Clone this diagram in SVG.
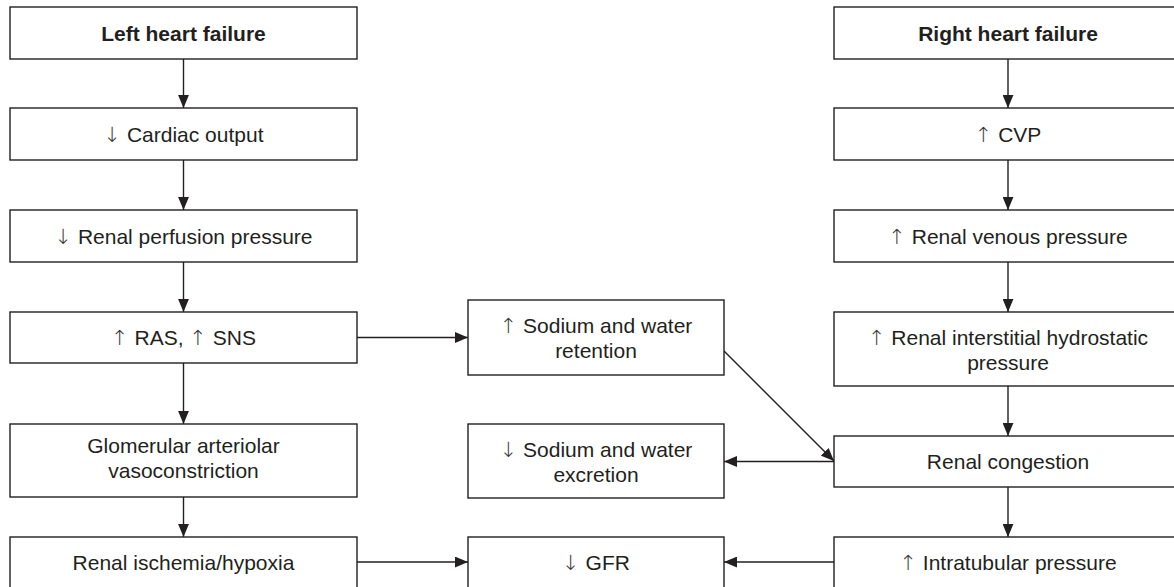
<svg xmlns="http://www.w3.org/2000/svg" width="1174" height="587" viewBox="0 0 1174 587">
<style>
.box{fill:#fff;stroke:#231f20;stroke-width:1.4}
.t{font-family:"Liberation Sans",Arial,sans-serif;font-size:21px;fill:#231f20;text-anchor:middle}
.b{font-weight:bold}
.a{font-family:"DejaVu Sans",sans-serif;font-weight:200;fill:#3a3a3a}
.c{stroke:#231f20;stroke-width:1.4;fill:none;marker-end:url(#ah)}
</style>
<defs>
<marker id="ah" markerUnits="userSpaceOnUse" markerWidth="13" markerHeight="11" refX="12" refY="5" orient="auto" viewBox="0 0 12 10">
<path d="M0,0 L12,5 L0,10 z" fill="#231f20"/>
</marker>
</defs>
<rect width="1174" height="587" fill="#fff"/>
<g id="connectors">
<line class="c" x1="183.5" y1="59" x2="183.5" y2="108"/>
<line class="c" x1="183.5" y1="160" x2="183.5" y2="210"/>
<line class="c" x1="183.5" y1="262" x2="183.5" y2="312"/>
<line class="c" x1="183.5" y1="363" x2="183.5" y2="424"/>
<line class="c" x1="183.5" y1="497" x2="183.5" y2="537"/>
<line class="c" x1="1008" y1="59" x2="1008" y2="108"/>
<line class="c" x1="1008" y1="160" x2="1008" y2="210"/>
<line class="c" x1="1008" y1="262" x2="1008" y2="312"/>
<line class="c" x1="1008" y1="386" x2="1008" y2="436"/>
<line class="c" x1="1008" y1="487" x2="1008" y2="537"/>
<line class="c" x1="357" y1="337.5" x2="468" y2="337.5"/>
<line class="c" x1="724" y1="351" x2="834" y2="461"/>
<line class="c" x1="834" y1="461.5" x2="724" y2="461.5"/>
<line class="c" x1="357" y1="562" x2="468" y2="562"/>
<line class="c" x1="834" y1="562" x2="724" y2="562"/>
</g>
<g id="left-heart-failure"><rect class="box" x="10" y="7" width="347" height="52"/><text class="t b" x="183.5" y="40.5">Left heart failure</text></g>
<g id="cardiac-output"><rect class="box" x="10" y="108" width="347" height="52"/><text class="t" x="183.5" y="141.5"><tspan class="a">↓</tspan> Cardiac output</text></g>
<g id="renal-perfusion"><rect class="box" x="10" y="210" width="347" height="52"/><text class="t" x="183.5" y="243.5"><tspan class="a">↓</tspan> Renal perfusion pressure</text></g>
<g id="ras-sns"><rect class="box" x="10" y="312" width="347" height="51"/><text class="t" x="183.5" y="345"><tspan class="a">↑</tspan> RAS, <tspan class="a">↑</tspan> SNS</text></g>
<g id="glomerular"><rect class="box" x="10" y="424" width="347" height="73"/><text class="t" x="183.5" y="453">Glomerular arteriolar</text><text class="t" x="183.5" y="478">vasoconstriction</text></g>
<g id="ischemia"><rect class="box" x="10" y="537" width="347" height="70"/><text class="t" x="183.5" y="570">Renal ischemia/hypoxia</text></g>
<g id="sodium-retention"><rect class="box" x="468" y="300" width="256" height="75"/><text class="t" x="596" y="333"><tspan class="a">↑</tspan> Sodium and water</text><text class="t" x="596" y="358">retention</text></g>
<g id="sodium-excretion"><rect class="box" x="468" y="424" width="256" height="74"/><text class="t" x="596" y="456.5"><tspan class="a">↓</tspan> Sodium and water</text><text class="t" x="596" y="481.5">excretion</text></g>
<g id="gfr"><rect class="box" x="468" y="537" width="256" height="70"/><text class="t" x="596" y="570"><tspan class="a">↓</tspan> GFR</text></g>
<g id="right-heart-failure"><rect class="box" x="834" y="7" width="348" height="52"/><text class="t b" x="1008" y="40.5">Right heart failure</text></g>
<g id="cvp"><rect class="box" x="834" y="108" width="348" height="52"/><text class="t" x="1008" y="141.5"><tspan class="a">↑</tspan> CVP</text></g>
<g id="renal-venous"><rect class="box" x="834" y="210" width="348" height="52"/><text class="t" x="1008" y="243.5"><tspan class="a">↑</tspan> Renal venous pressure</text></g>
<g id="interstitial"><rect class="box" x="834" y="312" width="348" height="74"/><text class="t" x="1008" y="344.5"><tspan class="a">↑</tspan> Renal interstitial hydrostatic</text><text class="t" x="1008" y="369.5">pressure</text></g>
<g id="renal-congestion"><rect class="box" x="834" y="436" width="348" height="51"/><text class="t" x="1008" y="469">Renal congestion</text></g>
<g id="intratubular"><rect class="box" x="834" y="537" width="348" height="70"/><text class="t" x="1008" y="570"><tspan class="a">↑</tspan> Intratubular pressure</text></g>
</svg>
